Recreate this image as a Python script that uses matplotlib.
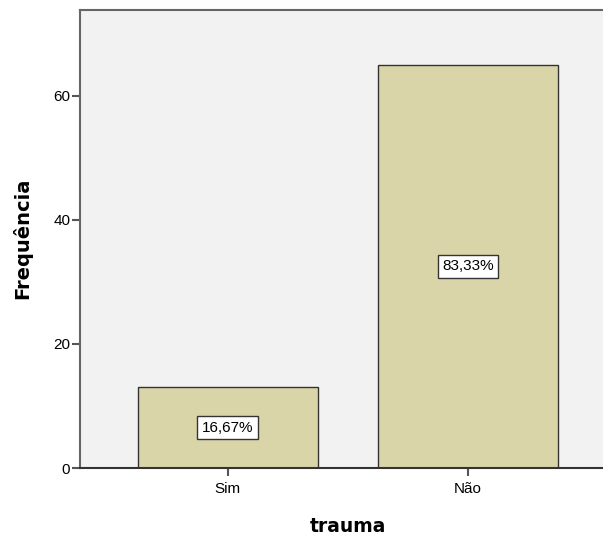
import matplotlib.pyplot as plt
import numpy as np

# data
categories = ["Sim", "Não"]
counts = [13, 65]
pct_labels = ["16,67%", "83,33%"]
y_ticks = [0, 20, 40, 60]

plt.rcParams['font.family'] = ['Liberation Sans', 'DejaVu Sans']

fig = plt.figure(figsize=(6.03, 5.42), dpi=100)
ax = fig.add_axes([80 / 603, 1 - 468 / 542, 1 - 80 / 603, (468 - 10) / 542])
ax.set_facecolor('#f2f2f2')

x = np.arange(len(categories))
ax.bar(x, counts, width=0.75, color='#d9d5a8', edgecolor='#333333', linewidth=1.0, zorder=2)

# percentage boxes in the middle of each bar
for xi, c, lab in zip(x, counts, pct_labels):
    ax.text(xi, c / 2, lab, ha='center', va='center', fontsize=11, zorder=3,
            bbox=dict(boxstyle='square,pad=0.3', facecolor='white', edgecolor='#333333', linewidth=1.0))

ax.set_xlim(-0.615, 1.5625)
ax.set_ylim(0, 73.8)
ax.set_xticks(x)
ax.set_xticklabels(categories, fontsize=11)
ax.set_yticks(y_ticks)
ax.tick_params(axis='y', labelsize=11, direction='out', length=6, width=1.5, color='#555555', pad=1)
ax.tick_params(axis='x', direction='out', length=6, width=1.5, color='#555555', pad=4)

for side in ['left', 'top', 'bottom']:
    ax.spines[side].set_color('#666666')
    ax.spines[side].set_linewidth(1.5)
ax.spines['bottom'].set_color('#333333')
ax.spines['right'].set_visible(False)

fig.text(22 / 603, 1 - 238 / 542, "Frequência", rotation=90, ha='center', va='center',
         fontsize=14, fontweight='bold', family='DejaVu Sans')
fig.text(348 / 603, 1 - 526 / 542, "trauma", ha='center', va='center',
         fontsize=13.5, fontweight='bold', family='DejaVu Sans')

plt.savefig("out.png", dpi=100)
plt.close()
